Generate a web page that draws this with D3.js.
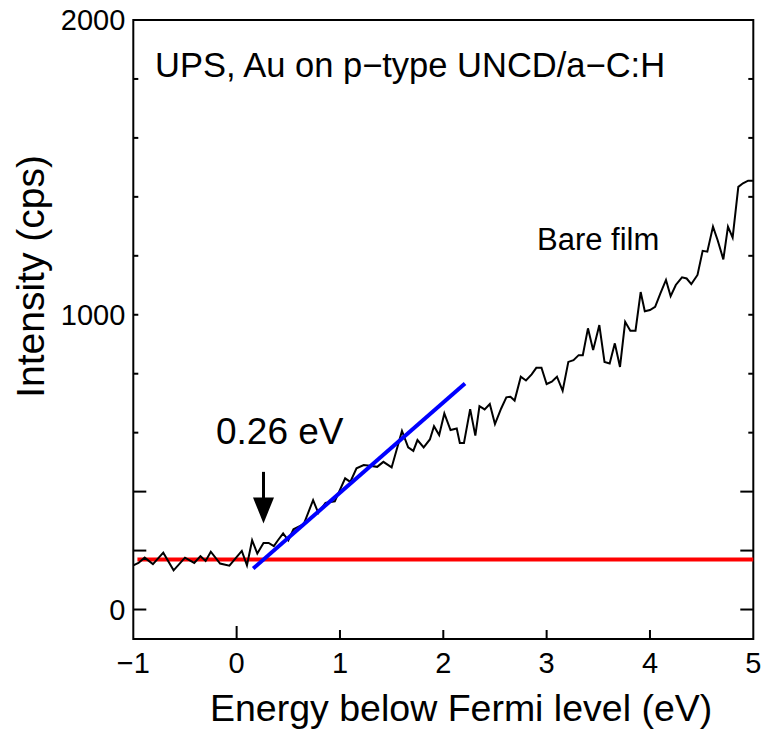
<!DOCTYPE html>
<html><head><meta charset="utf-8">
<script src="https://cdn.jsdelivr.net/npm/d3@7"></script>
<style>body{margin:0;background:#fff}svg{display:block}text{font-family:"Liberation Sans",Arial,sans-serif;fill:#000}</style>
</head><body><svg id="c" width="764" height="731"></svg>
<script>
const energy = [-1.00,-0.95,-0.89,-0.81,-0.71,-0.61,-0.50,-0.41,-0.35,-0.30,-0.25,-0.16,-0.07,0.05,0.10,0.15,0.20,0.26,0.31,0.36,0.40,0.45,0.50,0.55,0.65,0.74,0.79,0.86,0.95,1.05,1.10,1.16,1.23,1.29,1.36,1.42,1.50,1.60,1.66,1.71,1.75,1.81,1.87,1.91,1.96,2.01,2.07,2.13,2.16,2.20,2.26,2.31,2.35,2.40,2.45,2.50,2.56,2.61,2.65,2.69,2.75,2.80,2.855,2.90,2.95,3.00,3.05,3.10,3.155,3.21,3.26,3.31,3.35,3.40,3.45,3.51,3.56,3.61,3.66,3.71,3.76,3.81,3.86,3.91,3.95,4.00,4.05,4.10,4.155,4.20,4.25,4.31,4.355,4.40,4.46,4.51,4.555,4.61,4.655,4.71,4.755,4.80,4.855,4.90,4.95,5.00];
const intensity = [150,158,176,154,193,133,176,158,181,165,196,156,149,199,150,235,190,226,226,215,235,258,235,272,290,371,328,362,367,445,433,479,490,488,484,501,482,606,550,538,575,550,577,622,592,665,609,614,565,565,680,590,690,679,697,629,682,720,722,709,790,777,798,820,820,765,773,790,742,840,846,863,863,954,880,965,840,835,903,823,976,946,946,1077,1012,1016,1027,1072,1118,1063,1101,1127,1123,1104,1135,1217,1214,1299,1253,1188,1299,1262,1434,1446,1455,1455];
const baselineE = [-0.96, 5.0];
const baselineI = [170, 170];
const slopeE = [0.16, 2.21];
const slopeI = [139, 767];
const arrowE = 0.26, arrowTopI = 467, arrowTipI = 292;
const xTicks = [-1,0,1,2,3,4,5];
const yLabels = [0,1000,2000];
const yMinor = d3.range(0,2001,200);

const svg = d3.select("#c");
const x = d3.scaleLinear().domain([-1,5]).range([133.3,753.3]);
const y = d3.scaleLinear().domain([-100,2000]).range([639,20]);

// ticks
const g = svg.append("g");
yMinor.forEach(v=>{
  const len = v<=400 ? 13 : 5;
  g.append("line").attr("x1",x(-1)).attr("x2",x(-1)+len).attr("y1",y(v)).attr("y2",y(v)).attr("stroke","#000").attr("stroke-width",2);
  g.append("line").attr("x1",x(5)).attr("x2",x(5)-len).attr("y1",y(v)).attr("y2",y(v)).attr("stroke","#000").attr("stroke-width",2);
});
xTicks.forEach(v=>{
  if (v===-1||v===5) return;
  const len = v===0 ? 13 : 9;
  g.append("line").attr("x1",x(v)).attr("x2",x(v)).attr("y1",y(-100)).attr("y2",y(-100)-len).attr("stroke","#000").attr("stroke-width",2);
});
// frame
svg.append("rect").attr("x",x(-1)).attr("y",y(2000)).attr("width",x(5)-x(-1)).attr("height",y(-100)-y(2000))
  .attr("fill","none").attr("stroke","#000").attr("stroke-width",2);

// tick labels
yLabels.forEach(v=>{
  svg.append("text").attr("x",x(-1)-8).attr("y",y(v)).attr("dy","0.36em").attr("text-anchor","end").attr("font-size",29).text(v);
});
xTicks.forEach(v=>{
  svg.append("text").attr("x",x(v)).attr("y",673).attr("text-anchor","middle").attr("font-size",29).text(v<0?"\u2212"+Math.abs(v):v);
});
// axis titles
svg.append("text").attr("x",210).attr("y",721).attr("font-size",37.5).text("Energy below Fermi level (eV)");
svg.append("text").attr("transform","translate(44,"+ (y(1130)) +") rotate(-90)").attr("text-anchor","middle").attr("font-size",39).text("Intensity (cps)");

// data
const line = d3.line().x(d=>x(d[0])).y(d=>y(d[1]));
svg.append("path").datum(baselineE.map((e,i)=>[e,baselineI[i]])).attr("d",line).attr("stroke","#ff0000").attr("stroke-width",4).attr("fill","none");
svg.append("path").datum(energy.map((e,i)=>[e,intensity[i]])).attr("d",line).attr("stroke","#000").attr("stroke-width",2).attr("fill","none").attr("stroke-linejoin","miter");
svg.append("path").datum(slopeE.map((e,i)=>[e,slopeI[i]])).attr("d",line).attr("stroke","#0000ff").attr("stroke-width",4).attr("fill","none");

// arrow
const ax = x(arrowE), at = y(arrowTopI), tip = y(arrowTipI);
svg.append("line").attr("x1",ax).attr("x2",ax).attr("y1",at).attr("y2",tip-20).attr("stroke","#000").attr("stroke-width",3);
svg.append("path").attr("d",`M${ax-10.5},${tip-26}L${ax+10.5},${tip-26}L${ax},${tip}Z`).attr("fill","#000");

// annotations
svg.append("text").attr("x",216).attr("y",444).attr("font-size",37).text("0.26 eV");
svg.append("text").attr("x",155).attr("y",77).attr("font-size",34.5).text("UPS, Au on p\u2212type UNCD/a\u2212C:H");
svg.append("text").attr("x",537).attr("y",250).attr("font-size",31).text("Bare film");
</script></body></html>
